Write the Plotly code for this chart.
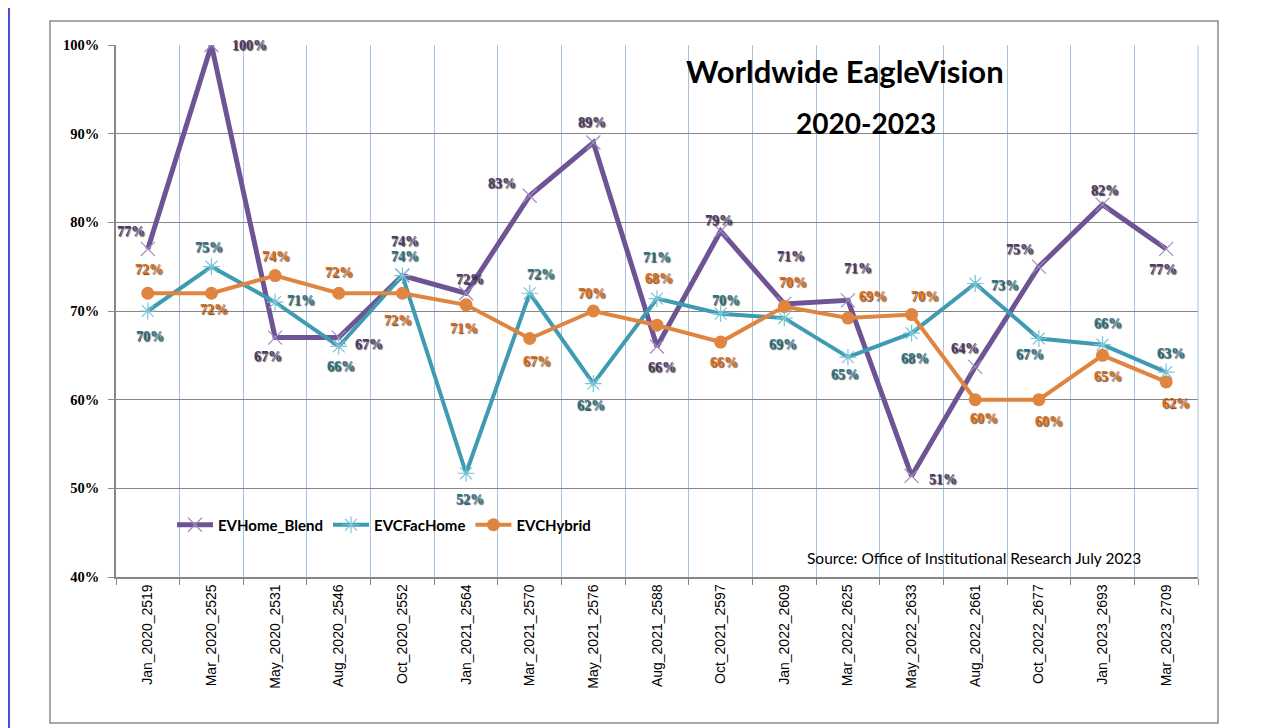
import plotly.graph_objects as go

categories = ["Jan_2020_2519", "Mar_2020_2525", "May_2020_2531", "Aug_2020_2546",
              "Oct_2020_2552", "Jan_2021_2564", "Mar_2021_2570", "May_2021_2576",
              "Aug_2021_2588", "Oct_2021_2597", "Jan_2022_2609", "Mar_2022_2625",
              "May_2022_2633", "Aug_2022_2661", "Oct_2022_2677", "Jan_2023_2693",
              "Mar_2023_2709"]

ev_home_blend = [0.77, 1.00, 0.67, 0.67, 0.74, 0.72, 0.83, 0.89, 0.66, 0.79,
                 0.708, 0.712, 0.514, 0.637, 0.75, 0.82, 0.77]
evc_fac_home = [0.70, 0.75, 0.71, 0.66, 0.74, 0.517, 0.72, 0.618, 0.714, 0.697,
                0.692, 0.648, 0.675, 0.731, 0.669, 0.662, 0.631]
evc_hybrid = [0.72, 0.72, 0.74, 0.72, 0.72, 0.707, 0.669, 0.70, 0.684, 0.665,
              0.705, 0.692, 0.696, 0.60, 0.60, 0.65, 0.62]

series_names = ["EVHome_Blend", "EVCFacHome", "EVCHybrid"]

# label offsets in pixels (dx right, dy up)
off_blend = [(-17, 17), (38, 0), (-7, -19), (30, -7), (3, 34), (4, 14), (-28, 12),
             (-1, 20), (5, -21), (-2, 11), (7, 47), (10, 32), (31, -4), (-10, 18),
             (-19, 17), (2, 14), (-3, -21)]
off_fac = [(2, -25), (-2, 19), (26, 2), (2, -20), (3, 19), (4, -26), (11, 19),
           (-2, -22), (0, 41), (5, 13), (-1, -26), (-3, -17), (3, -25), (30, -2),
           (-9, -16), (5, 21), (5, 19)]
off_hyb = [(1, 24), (3, -16), (1, 19), (0, 21), (-4, -27), (-2, -24), (7, -23),
           (-1, 18), (2, 47), (3, -20), (9, 24), (25, 22), (13, 18), (9, -19),
           (10, -22), (5, -21), (10, -22)]

line_colors = ["#6E5494", "#3E9BB3", "#E0853F"]
marker_colors = ["#A08CC0", "#7CC4D8", "#E0853F"]
label_colors = ["#4A3A70", "#26788F", "#E46C0A"]

# page offset of the figure (browser body margin)
PAGE_OFF = 8
PL, PR, PT, PB = 116, 1198, 45, 577  # plot area in page pixels
PW, PH = PR - PL, PB - PT


def px(xp):
    return (xp - PL) / PW


def py(yp):
    return (PB - yp) / PH


fig = go.Figure()

fig.add_trace(go.Scatter(
    x=categories, y=ev_home_blend, name=series_names[0], mode="lines+markers",
    line=dict(color=line_colors[0], width=5),
    marker=dict(symbol="x-thin-open", size=14, color=marker_colors[0],
                line=dict(color=marker_colors[0], width=1.2)),
))
fig.add_trace(go.Scatter(
    x=categories, y=evc_fac_home, name=series_names[1], mode="lines+markers",
    line=dict(color=line_colors[1], width=4),
    marker=dict(symbol="asterisk-open", size=14, color=marker_colors[1],
                line=dict(color=marker_colors[1], width=1.2)),
))
fig.add_trace(go.Scatter(
    x=categories, y=evc_hybrid, name=series_names[2], mode="lines+markers",
    line=dict(color=line_colors[2], width=4),
    marker=dict(symbol="circle", size=13, color=marker_colors[2]),
))

annotations = []
for vals, offs, col in [(ev_home_blend, off_blend, label_colors[0]),
                        (evc_fac_home, off_fac, label_colors[1]),
                        (evc_hybrid, off_hyb, label_colors[2])]:
    for cat, v, (dx, dy) in zip(categories, vals, offs):
        annotations.append(dict(
            x=cat, y=v, xref="x", yref="y", text=f"{round(v*100):d}%",
            showarrow=False, xshift=dx, yshift=dy,
            font=dict(family="Liberation Serif", size=14, color=col, weight="bold",
                      shadow="1px 1px 1px rgba(0,0,0,0.75)"),
        ))

annotations.append(dict(
    x=px(845), y=py(71), xref="paper", yref="paper",
    text="<b>Worldwide EagleVision</b>", showarrow=False,
    font=dict(family="Lato", size=31, color="black"),
    xanchor="center", yanchor="middle"))
annotations.append(dict(
    x=px(866), y=py(123), xref="paper", yref="paper",
    text="<b>2020-2023</b>", showarrow=False,
    font=dict(family="Lato", size=28, color="black"),
    xanchor="center", yanchor="middle"))
annotations.append(dict(
    x=px(1143), y=py(558), xref="paper", yref="paper",
    text="Source: Office of Institutional Research July 2023", showarrow=False,
    font=dict(family="Lato", size=15.5, color="black"),
    xanchor="right", yanchor="middle"))

shapes = [
    dict(type="rect", xref="paper", yref="paper",
         x0=px(50), x1=px(1218), y0=py(723), y1=py(21),
         line=dict(color="#8C8C8C", width=1.5), fillcolor="rgba(0,0,0,0)", layer="below"),
    dict(type="line", xref="paper", yref="paper",
         x0=px(PAGE_OFF + 1), x1=px(PAGE_OFF + 1), y0=py(728 + PAGE_OFF), y1=py(PAGE_OFF),
         line=dict(color="#1010D0", width=1.5)),
    dict(type="line", xref="paper", yref="paper", x0=1, x1=1, y0=0, y1=1,
         line=dict(color="#A6C1DE", width=1)),
]

fig.update_layout(
    width=1282, height=728,
    margin=dict(l=PL - PAGE_OFF, r=1282 - (PR - PAGE_OFF), t=PT - PAGE_OFF,
                b=728 - (PB - PAGE_OFF), autoexpand=False),
    paper_bgcolor="white", plot_bgcolor="white",
    showlegend=True,
    legend=dict(orientation="h", x=px(172), y=py(525),
                xanchor="left", yanchor="middle",
                font=dict(family="Lato", size=15, color="black", weight="bold"),
                bgcolor="rgba(0,0,0,0)", itemwidth=36),
    annotations=annotations,
    shapes=shapes,
    xaxis=dict(
        type="category", tickson="boundaries", tickangle=-90,
        showgrid=True, gridcolor="#A6C1DE", gridwidth=1,
        showline=True, linecolor="#868686", linewidth=1.5,
        ticks="outside", ticklen=6, tickcolor="#868686",
        tickfont=dict(family="Liberation Sans", size=14, color="black"),
        range=[-0.5, len(categories) - 0.5], zeroline=False,
    ),
    yaxis=dict(
        range=[0.4, 1.0], dtick=0.1, tickformat=".0%",
        showgrid=True, gridcolor="#868686", gridwidth=1,
        showline=True, linecolor="#868686", linewidth=1.5,
        ticks="outside", ticklen=6, tickcolor="#868686",
        tickfont=dict(family="Liberation Serif", size=14.5, color="black", weight="bold"),
        ticklabelstandoff=6, zeroline=False,
    ),
)

fig.write_html("out.html")
